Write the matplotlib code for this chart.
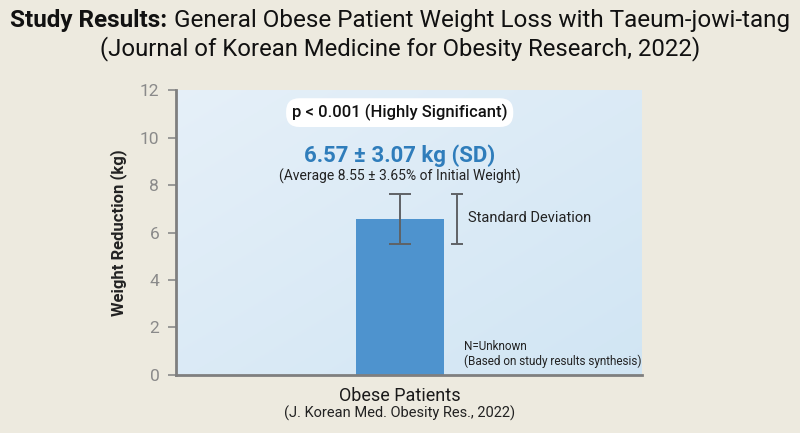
import numpy as np
import matplotlib.pyplot as plt

categories = ["Obese Patients"]
reduction_kg = [6.57]
error_shown = [1.05]
yticks = [0, 2, 4, 6, 8, 10, 12]

plt.rcParams['font.family'] = ['Roboto', 'DejaVu Sans']

fig = plt.figure(figsize=(8, 4.33), dpi=100, facecolor='#EDEADF')
ax = fig.add_axes([0.22, 0.134, 0.5825, 0.658])
ax.set_facecolor('none')

# soft blue gradient panel
gx, gy = np.meshgrid(np.linspace(0, 1, 200), np.linspace(0, 1, 100))
g = 0.5 * gx + 0.5 * gy
c0 = np.array([0.90, 0.94, 0.975])
c1 = np.array([0.82, 0.90, 0.955])
img = c0 + (c1 - c0) * g[..., None]
ax.imshow(img, extent=[0, 1, 0, 1], transform=ax.transAxes, aspect='auto', zorder=0, origin='upper')

x = np.arange(len(categories))
ax.bar(x, reduction_kg, width=0.378, color='#4E93CE', zorder=2)
ax.errorbar(x, reduction_kg, yerr=error_shown, fmt='none', ecolor='#5F6266',
            elinewidth=1.4, capsize=8, capthick=1.4, zorder=3)

ax.set_xlim(-0.96, 1.04)
ax.set_ylim(0, 12)
ax.set_yticks(yticks)
ax.set_xticks(x)
ax.set_xticklabels(categories, fontsize=13, color='#1A1A1A')
ax.tick_params(axis='x', length=0, pad=9)
ax.tick_params(axis='y', length=6, width=1.2, color='#8A8A8A', labelcolor='#8A8A8A', labelsize=12.5, pad=6)
for s in ['top', 'right']:
    ax.spines[s].set_visible(False)
for s in ['left', 'bottom']:
    ax.spines[s].set_color('#7F7F7F')
    ax.spines[s].set_linewidth(2)
ax.set_ylabel("Weight Reduction (kg)", fontsize=12, fontweight='bold', color='#222222', labelpad=9)

ax.text(0.0, -0.135, "(J. Korean Med. Obesity Res., 2022)", transform=ax.get_xaxis_transform(),
        ha='center', va='center', fontsize=10.5, color='#222222')

# annotations inside the panel
ax.text(0.0, 11.05, "p < 0.001 (Highly Significant)", ha='center', va='center', fontsize=12,
        fontweight='medium', color='#111111', zorder=4,
        bbox=dict(boxstyle='round,pad=0.35,rounding_size=0.8', fc='white', ec='none'))
ax.text(0.0, 9.25, "6.57 ± 3.07 kg (SD)", ha='center', va='center', fontsize=16,
        fontweight='bold', color='#2F7DBB', zorder=4)
ax.text(0.0, 8.35, "(Average 8.55 ± 3.65% of Initial Weight)", ha='center', va='center',
        fontsize=10, color='#222222', zorder=4)

# standard deviation key
kx = 0.246
ax.errorbar([kx], [reduction_kg[0]], yerr=error_shown, fmt='none', ecolor='#5F6266',
            elinewidth=1.4, capsize=4, capthick=1.4, zorder=3)
ax.text(kx + 0.048, 6.6, "Standard Deviation", ha='left', va='center', fontsize=10.5, color='#222222')

ax.text(0.276, 1.18, "N=Unknown", ha='left', va='center', fontsize=8.5, color='#222222')
ax.text(0.276, 0.58, "(Based on study results synthesis)", ha='left', va='center', fontsize=8.5, color='#222222')

# title with bold lead-in
t1 = fig.text(0, 0.952, "Study Results:", fontsize=17.5, fontweight='bold',
              ha='left', va='center', color='#111111')
t2 = fig.text(0, 0.952, " General Obese Patient Weight Loss with Taeum-jowi-tang", fontsize=17.5,
              ha='left', va='center', color='#111111')
r = fig.canvas.get_renderer()
w1 = t1.get_window_extent(r).width
w2 = t2.get_window_extent(r).width
start = (800 - w1 - w2) / 2
t1.set_x(start / 800)
t2.set_x((start + w1) / 800)
fig.text(0.5, 0.888, "(Journal of Korean Medicine for Obesity Research, 2022)", fontsize=17.2,
         ha='center', va='center', color='#111111')

fig.savefig('out.png', dpi=100, facecolor=fig.get_facecolor())
